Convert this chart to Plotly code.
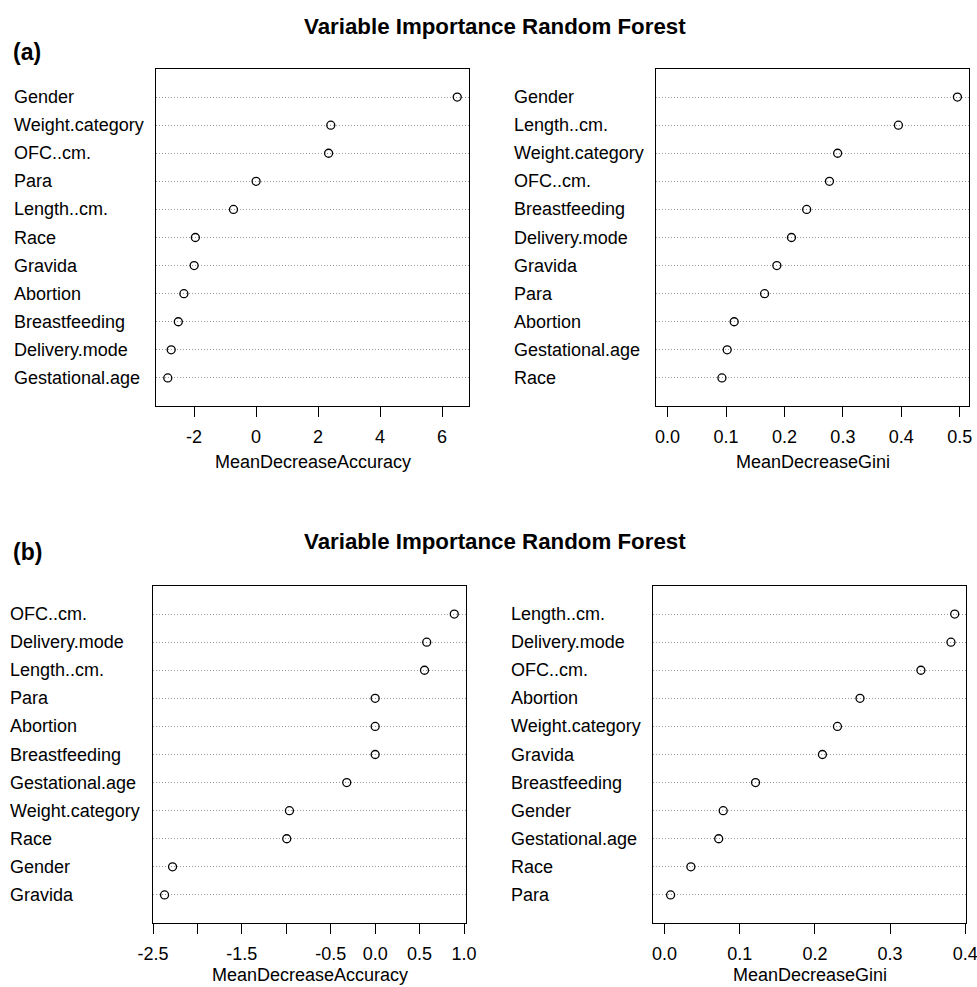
import plotly.graph_objects as go

# ---- data (top-to-bottom order as displayed) ----
a_acc_labels = ["Gender", "Weight.category", "OFC..cm.", "Para", "Length..cm.", "Race",
                "Gravida", "Abortion", "Breastfeeding", "Delivery.mode", "Gestational.age"]
a_acc_values = [6.49, 2.41, 2.34, 0.0, -0.73, -1.96, -2.0, -2.33, -2.51, -2.74, -2.85]

a_gini_labels = ["Gender", "Length..cm.", "Weight.category", "OFC..cm.", "Breastfeeding",
                 "Delivery.mode", "Gravida", "Para", "Abortion", "Gestational.age", "Race"]
a_gini_values = [0.496, 0.395, 0.291, 0.277, 0.238, 0.212, 0.187, 0.166, 0.114, 0.102, 0.093]

b_acc_labels = ["OFC..cm.", "Delivery.mode", "Length..cm.", "Para", "Abortion", "Breastfeeding",
                "Gestational.age", "Weight.category", "Race", "Gender", "Gravida"]
b_acc_values = [0.89, 0.58, 0.555, 0.0, 0.0, 0.0, -0.32, -0.965, -0.995, -2.28, -2.37]

b_gini_labels = ["Length..cm.", "Delivery.mode", "OFC..cm.", "Abortion", "Weight.category",
                 "Gravida", "Breastfeeding", "Gender", "Gestational.age", "Race", "Para"]
b_gini_values = [0.386, 0.381, 0.341, 0.260, 0.230, 0.210, 0.121, 0.078, 0.072, 0.035, 0.008]

a_acc_ticks = [-2, 0, 2, 4, 6]
a_acc_ticktext = ["-2", "0", "2", "4", "6"]
a_gini_ticks = [0.0, 0.1, 0.2, 0.3, 0.4, 0.5]
a_gini_ticktext = ["0.0", "0.1", "0.2", "0.3", "0.4", "0.5"]
b_acc_ticks = [-2.5, -2.0, -1.5, -1.0, -0.5, 0.0, 0.5, 1.0]
b_acc_ticktext = ["-2.5", "", "-1.5", "", "-0.5", "0.0", "0.5", "1.0"]
b_gini_ticks = [0.0, 0.1, 0.2, 0.3, 0.4]
b_gini_ticktext = ["0.0", "0.1", "0.2", "0.3", "0.4"]

main_title = "Variable Importance Random Forest"
acc_title = "MeanDecreaseAccuracy"
gini_title = "MeanDecreaseGini"

# ---- layout geometry (pixels) ----
W, H = 977, 987
FONT = "Liberation Sans, Arial, sans-serif"


def px_x(p):
    return p / W


def px_y(p):
    return 1 - p / H


panels = [
    (a_acc_labels, a_acc_values, [-3.23, 6.87], a_acc_ticks, a_acc_ticktext, (156, 469, 69, 406), 12, acc_title, 462),
    (a_gini_labels, a_gini_values, [-0.0198, 0.5158], a_gini_ticks, a_gini_ticktext, (656, 969, 69, 406), 512, gini_title, 462),
    (b_acc_labels, b_acc_values, [-2.5, 1.022], b_acc_ticks, b_acc_ticktext, (153, 466, 586, 923), 8, acc_title, 975),
    (b_gini_labels, b_gini_values, [-0.0154, 0.401], b_gini_ticks, b_gini_ticktext, (653, 966, 586, 923), 509, gini_title, 975),
]

fig = go.Figure()
annotations = []
layout = dict(
    template="none",
    width=W, height=H, autosize=False,
    margin=dict(l=0, r=0, t=0, b=0, pad=0),
    paper_bgcolor="white", plot_bgcolor="white",
    showlegend=False,
    font=dict(family=FONT, size=18, color="black"),
)

for i, (labels, values, xr, tv, tt, box, lab_x, xtitle, title_y) in enumerate(panels, start=1):
    n = len(labels)
    ypos = [n - k for k in range(n)]
    xa = "x" if i == 1 else f"x{i}"
    ya = "y" if i == 1 else f"y{i}"
    fig.add_trace(go.Scatter(
        x=values, y=ypos, mode="markers", xaxis=xa, yaxis=ya,
        marker=dict(symbol="circle-open", size=8, color="black", line=dict(width=1.3, color="black")),
        hoverinfo="skip",
    ))
    x0, x1, y0, y1 = box
    xkey = "xaxis" if i == 1 else f"xaxis{i}"
    ykey = "yaxis" if i == 1 else f"yaxis{i}"
    layout[xkey] = dict(
        domain=[px_x(x0), px_x(x1)], range=xr, anchor=ya, automargin=False,
        showline=True, linecolor="black", linewidth=1, mirror=True,
        ticks="outside", ticklen=10, tickwidth=1, tickcolor="black",
        tickvals=tv, ticktext=tt, showgrid=False, zeroline=False,
        tickfont=dict(family=FONT, size=18, color="black"),
        ticklabelstandoff=4, ticklabeloverflow="allow",
        fixedrange=True,
    )
    layout[ykey] = dict(
        domain=[px_y(y1), px_y(y0)], range=[0, n + 1], anchor=xa, automargin=False,
        showline=True, linecolor="black", linewidth=1, mirror=True,
        ticks="", tickvals=ypos, showticklabels=False,
        showgrid=True, gridcolor="#9a9a9a", griddash="1px,2px", gridwidth=1,
        zeroline=False, fixedrange=True,
    )
    for lab, yv in zip(labels, ypos):
        annotations.append(dict(
            text=lab, x=px_x(lab_x), xref="paper", y=yv, yref=ya,
            xanchor="left", yanchor="middle", showarrow=False,
            font=dict(family=FONT, size=18, color="black"),
        ))
    annotations.append(dict(
        text=xtitle, x=px_x((x0 + x1) / 2), xref="paper", y=px_y(title_y), yref="paper",
        xanchor="center", yanchor="middle", showarrow=False,
        font=dict(family=FONT, size=18, color="black"),
    ))

# main titles and panel tags
for ty in (26, 541):
    annotations.append(dict(
        text=f"<b>{main_title}</b>", x=px_x(495), xref="paper", y=px_y(ty), yref="paper",
        xanchor="center", yanchor="middle", showarrow=False,
        font=dict(family=FONT, size=22.3, color="black"),
    ))
for tag, ty in (("(a)", 52), ("(b)", 552)):
    annotations.append(dict(
        text=f"<b>{tag}</b>", x=px_x(11), xref="paper", y=px_y(ty), yref="paper",
        xanchor="left", yanchor="middle", showarrow=False,
        font=dict(family=FONT, size=23, color="black"),
    ))

layout["annotations"] = annotations
fig.update_layout(**layout)
fig.write_html(
    "out.html",
    config={"displayModeBar": False, "staticPlot": True},
    post_script="document.body.style.margin='0';document.body.style.padding='0';"
                "document.documentElement.style.overflow='hidden';document.body.style.overflow='hidden';",
)
